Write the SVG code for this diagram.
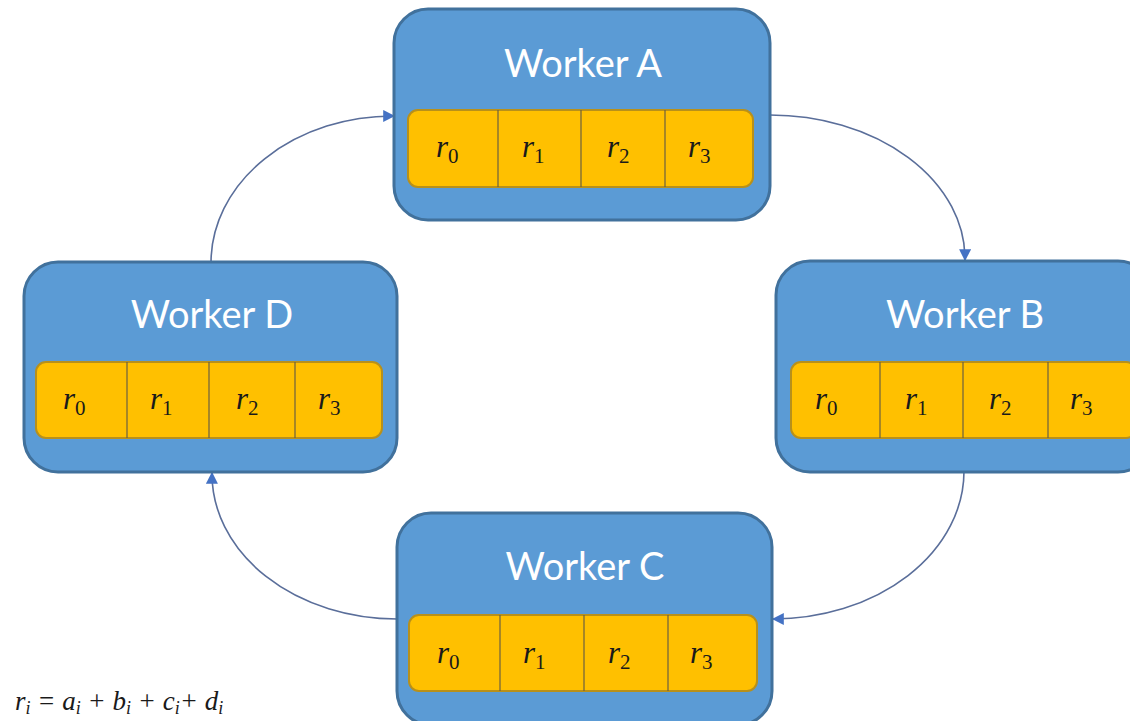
<svg xmlns="http://www.w3.org/2000/svg" width="1130" height="721" viewBox="0 0 1130 721">
<defs>
<style>
.box{fill:#5b9bd5;stroke:#41719c;stroke-width:3}
.strip{fill:#ffc000;stroke:#b8901a;stroke-width:2}
.div{stroke:#6b6040;stroke-width:1.2}
.title{font-family:"Lato","Open Sans",sans-serif;font-size:38px;fill:#ffffff;text-anchor:middle}
.r{font-family:"Liberation Serif",serif;font-style:italic;font-size:31px;fill:#1a1a1a}
.sub{font-family:"Liberation Serif",serif;font-style:normal;font-size:21px}
.conn{fill:none;stroke:#5a6e9a;stroke-width:1.6;marker-end:url(#ah)}
.f{font-family:"Liberation Serif",serif;font-style:italic;font-size:27px;fill:#1a1a1a}
.fs{font-size:18px}
</style>
<marker id="ah" viewBox="0 0 10 10" refX="9" refY="5" markerWidth="12" markerHeight="12" markerUnits="userSpaceOnUse" orient="auto">
<path d="M0,0 L10,5 L0,10 z" fill="#4472c4"/>
</marker>
</defs>
<rect width="1130" height="721" fill="#ffffff"/>

<g id="connectors">
<path class="conn" d="M770,115 A195 144 0 0 1 965,260"/>
<path class="conn" d="M964,471 A191 148 0 0 1 773,619"/>
<path class="conn" d="M397,619 A185 145 0 0 1 212,473"/>
<path class="conn" d="M211,263 A182 147 0 0 1 394,116"/>
</g>

<g id="workerA">
<rect class="box" x="394" y="9" width="376" height="211" rx="34"/>
<text class="title" x="583" y="77">Worker A</text>
<rect class="strip" x="408" y="110" width="345" height="77" rx="10"/>
<line class="div" x1="498" y1="110" x2="498" y2="187"/>
<line class="div" x1="581" y1="110" x2="581" y2="187"/>
<line class="div" x1="665" y1="110" x2="665" y2="187"/>
<text class="r" x="436" y="157">r<tspan class="sub" dy="6">0</tspan></text>
<text class="r" x="522" y="157">r<tspan class="sub" dy="6">1</tspan></text>
<text class="r" x="607" y="157">r<tspan class="sub" dy="6">2</tspan></text>
<text class="r" x="688" y="157">r<tspan class="sub" dy="6">3</tspan></text>
</g>

<g id="workerB">
<rect class="box" x="776" y="261" width="376" height="211" rx="34"/>
<text class="title" x="965" y="328">Worker B</text>
<rect class="strip" x="791" y="362" width="345" height="76" rx="10"/>
<line class="div" x1="880" y1="362" x2="880" y2="438"/>
<line class="div" x1="963" y1="362" x2="963" y2="438"/>
<line class="div" x1="1048" y1="362" x2="1048" y2="438"/>
<text class="r" x="815" y="409">r<tspan class="sub" dy="6">0</tspan></text>
<text class="r" x="905" y="409">r<tspan class="sub" dy="6">1</tspan></text>
<text class="r" x="989" y="409">r<tspan class="sub" dy="6">2</tspan></text>
<text class="r" x="1070" y="409">r<tspan class="sub" dy="6">3</tspan></text>
</g>

<g id="workerD">
<rect class="box" x="24" y="262" width="373" height="210" rx="34"/>
<text class="title" x="212" y="328">Worker D</text>
<rect class="strip" x="36" y="362" width="346" height="76" rx="10"/>
<line class="div" x1="127" y1="362" x2="127" y2="438"/>
<line class="div" x1="209" y1="362" x2="209" y2="438"/>
<line class="div" x1="295" y1="362" x2="295" y2="438"/>
<text class="r" x="63" y="409">r<tspan class="sub" dy="6">0</tspan></text>
<text class="r" x="150" y="409">r<tspan class="sub" dy="6">1</tspan></text>
<text class="r" x="236" y="409">r<tspan class="sub" dy="6">2</tspan></text>
<text class="r" x="318" y="409">r<tspan class="sub" dy="6">3</tspan></text>
</g>

<g id="workerC">
<rect class="box" x="397" y="513" width="375" height="212" rx="34"/>
<text class="title" x="585" y="580">Worker C</text>
<rect class="strip" x="409" y="615" width="348" height="76" rx="10"/>
<line class="div" x1="500" y1="615" x2="500" y2="691"/>
<line class="div" x1="584" y1="615" x2="584" y2="691"/>
<line class="div" x1="668" y1="615" x2="668" y2="691"/>
<text class="r" x="437" y="663">r<tspan class="sub" dy="6">0</tspan></text>
<text class="r" x="523" y="663">r<tspan class="sub" dy="6">1</tspan></text>
<text class="r" x="608" y="663">r<tspan class="sub" dy="6">2</tspan></text>
<text class="r" x="690" y="663">r<tspan class="sub" dy="6">3</tspan></text>
</g>

<g id="formula">
<text class="f" x="15" y="710">r<tspan class="fs" dy="4">i</tspan><tspan dy="-4"> = a</tspan><tspan class="fs" dy="4">i</tspan><tspan dy="-4"> + b</tspan><tspan class="fs" dy="4">i</tspan><tspan dy="-4"> + c</tspan><tspan class="fs" dy="4">i</tspan><tspan dy="-4">+ d</tspan><tspan class="fs" dy="4">i</tspan></text>
</g>
</svg>
